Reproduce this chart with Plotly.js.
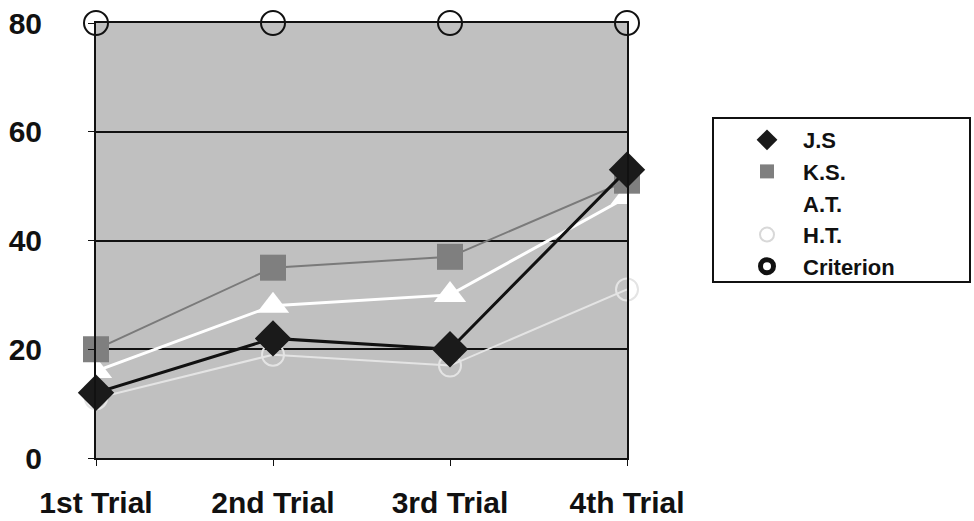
<!DOCTYPE html>
<html>
<head>
<meta charset="utf-8">
<script src="https://cdn.plot.ly/plotly-3.0.1.min.js"></script>
<style>html,body{margin:0;padding:0;background:#fff;}#chart{width:974px;height:521px;}</style>
</head>
<body>
<div id="chart"></div>
<script>
const trials = ['1st Trial', '2nd Trial', '3rd Trial', '4th Trial'];
const jsVals = [12, 22, 20, 53];
const ksVals = [20, 35, 37, 51];
const atVals = [16, 28, 30, 48];
const htVals = [11, 19, 17, 31];
const criterionVals = [80, 80, 80, 80];
const seriesNames = ['J.S', 'K.S.', 'A.T.', 'H.T.', 'Criterion'];

const FONT = {family: 'Liberation Sans, Arial, sans-serif', size: 30, color: '#111', weight: 700};

const traces = [
  {x: trials, y: criterionVals, mode: 'markers', name: seriesNames[4], showlegend: false, cliponaxis: false,
   marker: {symbol: 'circle-open', size: 24, color: '#111', line: {width: 2, color: '#111'}}},
  {x: trials, y: htVals, mode: 'lines+markers', name: seriesNames[3], showlegend: false, cliponaxis: false,
   line: {color: '#e4e4e4', width: 2},
   marker: {symbol: 'circle-open', size: 22, color: '#e4e4e4', line: {width: 2, color: '#e4e4e4'}}},
  {x: trials, y: atVals, mode: 'lines+markers', name: seriesNames[2], showlegend: false, cliponaxis: false,
   line: {color: '#ffffff', width: 3},
   marker: {symbol: 'triangle-up', size: 28, color: '#ffffff'}},
  {x: trials, y: ksVals, mode: 'lines+markers', name: seriesNames[1], showlegend: false, cliponaxis: false,
   line: {color: '#7a7a7a', width: 2},
   marker: {symbol: 'square', size: 26, color: '#7f7f7f'}},
  {x: trials, y: jsVals, mode: 'lines+markers', name: seriesNames[0], showlegend: false, cliponaxis: false,
   line: {color: '#111', width: 3},
   marker: {symbol: 'diamond', size: 28, color: '#1a1a1a'}},
  // legend-only entries
  {x: [null], y: [null], mode: 'markers', name: seriesNames[0], legendrank: 1, marker: {symbol: 'diamond', size: 16, color: '#1a1a1a'}},
  {x: [null], y: [null], mode: 'markers', name: seriesNames[1], legendrank: 2, marker: {symbol: 'square', size: 14, color: '#7f7f7f'}},
  {x: [null], y: [null], mode: 'markers', name: seriesNames[2], legendrank: 3, marker: {symbol: 'triangle-up', size: 16, color: '#ffffff'}},
  {x: [null], y: [null], mode: 'markers', name: seriesNames[3], legendrank: 4, marker: {symbol: 'circle-open', size: 14, color: '#d8d8d8', line: {width: 2, color: '#d8d8d8'}}},
  {x: [null], y: [null], mode: 'markers', name: seriesNames[4], legendrank: 5, marker: {symbol: 'circle-open', size: 13, color: '#111', line: {width: 5, color: '#111'}}}
];

const layout = {
  width: 974, height: 521,
  margin: {l: 96, r: 347, t: 23, b: 63},
  paper_bgcolor: '#ffffff',
  plot_bgcolor: '#c0c0c0',
  font: FONT,
  showlegend: true,
  xaxis: {
    type: 'category', categoryorder: 'array', categoryarray: trials,
    range: [0, 3], showgrid: false, zeroline: false,
    showline: true, linecolor: '#111', linewidth: 2, mirror: true,
    ticks: 'outside', ticklen: 6, tickwidth: 1, tickcolor: '#111',
    ticklabelstandoff: 11,
    tickfont: FONT
  },
  yaxis: {
    range: [0, 80], dtick: 20, tick0: 0,
    showgrid: true, gridcolor: '#111', gridwidth: 2, zeroline: false,
    showline: true, linecolor: '#111', linewidth: 2, mirror: true,
    ticks: 'outside', ticklen: 6, tickwidth: 1, tickcolor: '#111',
    ticklabelstandoff: 40,
    tickfont: FONT
  },
  legend: {
    xref: 'container', yref: 'container',
    x: 731 / 974, y: 1 - 119 / 521, xanchor: 'left', yanchor: 'top',
    bgcolor: 'rgba(0,0,0,0)', borderwidth: 0,
    itemwidth: 62,
    font: {family: 'Liberation Sans, Arial, sans-serif', size: 22, color: '#111', weight: 700}
  },
  shapes: [
    {type: 'rect', xref: 'paper', yref: 'paper',
     x0: (713 - 96) / 531, x1: (970 - 96) / 531,
     y0: (458 - 282) / 435, y1: (458 - 118) / 435,
     line: {color: '#111', width: 2}, fillcolor: 'rgba(0,0,0,0)'}
  ]
};

Plotly.newPlot('chart', traces, layout, {displayModeBar: false, staticPlot: true});
</script>
</body>
</html>
